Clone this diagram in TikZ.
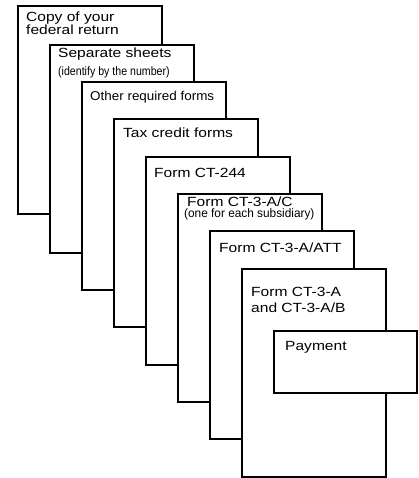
\documentclass[tikz,border=0pt]{standalone}
\usepackage{fontspec}
\newfontfamily\mainf[FakeStretch=1.17]{Liberation Sans}
\newfontfamily\otherf[FakeStretch=1.05]{Liberation Sans}
\newfontfamily\narrowf[FakeStretch=0.87]{Liberation Sans}
\newfontfamily\narrowwf[FakeStretch=0.97]{Liberation Sans}
\begin{document}
\begin{tikzpicture}[x=1pt,y=-1pt]
\tikzset{
  sheet/.style={draw=black,fill=white,line width=2pt,anchor=north west,inner sep=0pt,outer sep=0pt,minimum width=144pt,minimum height=208pt},
  paybox/.style={draw=black,fill=white,line width=2pt,anchor=north west,inner sep=0pt,outer sep=0pt,minimum width=143pt,minimum height=62pt},
  lbl/.style={anchor=base west,inner sep=0pt,font=\mainf\fontsize{13.3}{13}\selectfont},
  lblo/.style={anchor=base west,inner sep=0pt,font=\otherf\fontsize{12.8}{13}\selectfont},
  sub/.style={anchor=base west,inner sep=0pt,font=\narrowf\fontsize{12.2}{12}\selectfont},
  subw/.style={anchor=base west,inner sep=0pt,font=\narrowwf\fontsize{12.2}{12}\selectfont}
}
\useasboundingbox (0,0) rectangle (419,478);
\node[sheet] (s1) at (18,6) {};
\node[lbl] (t1a) at (26,22) {Copy of your};
\node[lbl] (t1b) at (26,34.5) {federal return};
\node[sheet] (s2) at (50,45) {};
\node[lbl] (t2a) at (58,58) {Separate sheets};
\node[sub] (t2b) at (58,75.5) {(identify by the number)};
\node[sheet] (s3) at (82,82) {};
\node[lblo] (t3) at (90,101) {Other required forms};
\node[sheet] (s4) at (114,119) {};
\node[lbl] (t4) at (123,138) {Tax credit forms};
\node[sheet] (s5) at (146,157) {};
\node[lbl] (t5) at (154,177.5) {Form CT-244};
\node[sheet] (s6) at (178,194) {};
\node[lbl] (t6a) at (187,206) {Form CT-3-A/C};
\node[subw] (t6b) at (184,217) {(one for each subsidiary)};
\node[sheet] (s7) at (210,231) {};
\node[lbl] (t7) at (219,252.5) {Form CT-3-A/ATT};
\node[sheet] (s8) at (242,269) {};
\node[lbl] (t8a) at (251,296.5) {Form CT-3-A};
\node[lbl] (t8b) at (251,312.5) {and CT-3-A/B};
\node[paybox] (p) at (274,331) {};
\node[lbl] (tp) at (285,350) {Payment};
\end{tikzpicture}
\end{document}
